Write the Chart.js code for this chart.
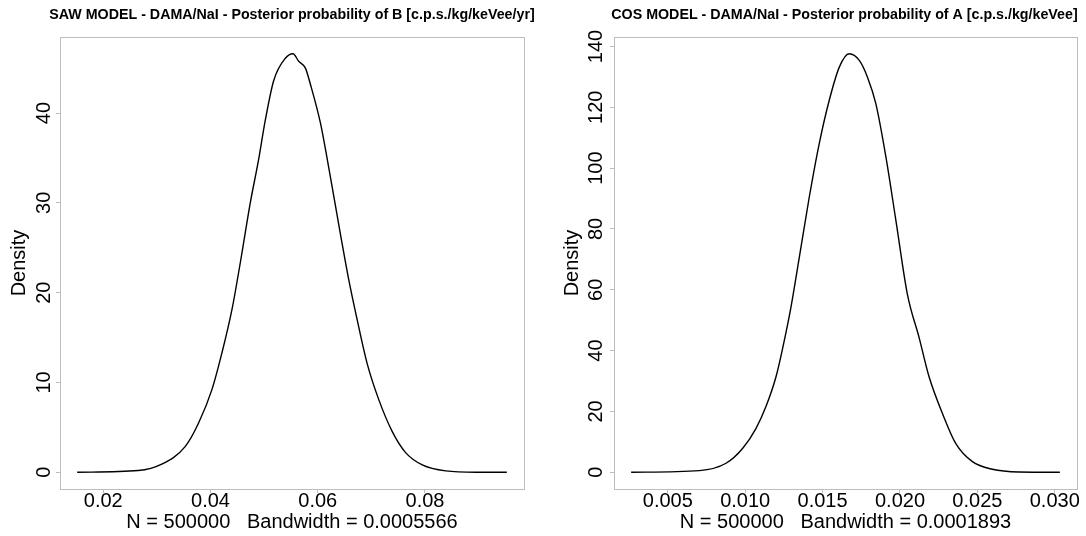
<!DOCTYPE html>
<html>
<head>
<meta charset="utf-8">
<script src="https://cdn.jsdelivr.net/npm/chart.js@4/dist/chart.umd.min.js"></script>
<style>
  body { margin: 0; background: #fff; overflow: hidden; }
  #wrap { position: relative; width: 1086px; height: 536px; overflow: hidden; }
  canvas { position: absolute; top: 0; }
  #saw { left: 0; }
  #cos { left: 560px; }
</style>
</head>
<body>
<div id="wrap">
  <canvas id="saw" width="584" height="536"></canvas>
  <canvas id="cos" width="569" height="536"></canvas>
</div>
<script>
// --- DATA ---

// SAW model, posterior density of B
const sawTitle = "SAW MODEL - DAMA/NaI - Posterior probability of B [c.p.s./kg/keVee/yr]";
const sawSub = "N = 500000   Bandwidth = 0.0005566";
const sawX = [0.01514, 0.02654, 0.0309, 0.03527, 0.03776, 0.04025, 0.04212, 0.044, 0.04555, 0.04742,
  0.04897, 0.05022, 0.05178, 0.05396, 0.05539, 0.05645, 0.0577, 0.05863, 0.0605, 0.06143,
  0.06268, 0.06424, 0.0658, 0.06735, 0.06922, 0.0714, 0.0739, 0.07639, 0.0795, 0.08386, 0.0895, 0.09526];
const sawY = [0, 0.19, 0.9, 2.86, 5.46, 9.17, 13.26, 18.1, 23.3, 30.0,
  34.8, 39.2, 43.6, 46.1, 46.6, 45.76, 45.0, 43.2, 38.9, 36.0,
  31.8, 26.5, 21.4, 17.0, 12.1, 8.06, 4.53, 2.19, 0.82, 0.15, 0, 0];
const sawXTicks = [0.02, 0.04, 0.06, 0.08];
const sawXLabels = ["0.02", "0.04", "0.06", "0.08"];
const sawYTicks = [0, 10, 20, 30, 40];
const sawYLabels = ["0", "10", "20", "30", "40"];

// COS model, posterior density of A
const cosTitle = "COS MODEL - DAMA/NaI - Posterior probability of A [c.p.s./kg/keVee]";
const cosSub = "N = 500000   Bandwidth = 0.0001893";
const cosX = [0.00263, 0.00704, 0.00876, 0.00984, 0.0107, 0.01134, 0.01199, 0.01242, 0.01296, 0.0135,
  0.01414, 0.01478, 0.01543, 0.01608, 0.01672, 0.01737, 0.0179, 0.01844, 0.01909, 0.01973,
  0.02048, 0.02124, 0.02188, 0.02274, 0.0236, 0.02468, 0.02597, 0.02769, 0.03033];
const cosY = [0, 0.55, 2.96, 7.9, 14.45, 21.6, 31.4, 40.8, 54.4, 70.8,
  90.5, 108.0, 122.3, 133.2, 137.6, 135.4, 129.9, 121.2, 103.7, 83.0,
  58.5, 44.2, 31.4, 19.4, 9.5, 3.5, 0.99, 0.1, 0];
const cosXTicks = [0.005, 0.010, 0.015, 0.020, 0.025, 0.030];
const cosXLabels = ["0.005", "0.010", "0.015", "0.020", "0.025", "0.030"];
const cosYTicks = [0, 20, 40, 60, 80, 100, 120, 140];
const cosYLabels = ["0", "20", "40", "60", "80", "100", "120", "140"];

// --- CHART ---

const FONT = "'Liberation Sans', Arial, Helvetica, sans-serif";
const BOX = "#bdbdbd";

// R style: axis range is the data range stretched by 4% on each side
function padRange(values) {
  const lo = Math.min(...values);
  const hi = Math.max(...values);
  const d = (hi - lo) * 0.04;
  return [lo - d, hi + d];
}

// each canvas is centred on its plot box so the full width title lands centred over it;
// axisW / rightW are the space left and right of the plot box inside the canvas
function makePanel(id, p) {
  const [xMin, xMax] = padRange(p.xs);
  const [yMin, yMax] = padRange(p.ys);
  const points = p.xs.map((x, i) => ({ x: x, y: p.ys[i] }));

  return new Chart(document.getElementById(id), {
    type: "line",
    data: {
      datasets: [{
        data: points,
        borderColor: "#000",
        borderWidth: 1.4,
        pointRadius: 0,
        fill: false,
        cubicInterpolationMode: "monotone",
      }],
    },
    options: {
      responsive: false,
      animation: false,
      devicePixelRatio: 1,
      layout: { padding: 0 },
      plugins: {
        legend: { display: false },
        tooltip: { enabled: false },
        title: {
          display: true,
          text: p.title,
          color: "#000",
          font: { family: FONT, size: 14.25, weight: "bold" },
          padding: { top: 7, bottom: 12.9 },
        },
      },
      scales: {
        x: {
          type: "linear",
          min: xMin,
          max: xMax,
          afterBuildTicks: (s) => { s.ticks = p.xTicks.map((v) => ({ value: v })); },
          afterFit: (s) => { s.height = 47; },
          ticks: {
            autoSkip: false,
            maxRotation: 0,
            padding: -3.5,
            color: "#000",
            font: { family: FONT, size: 20 },
            callback: (v, i) => p.xLabels[i],
          },
          grid: { drawOnChartArea: false, drawTicks: true, tickLength: 4, color: BOX },
          border: { display: true, color: BOX },
          title: {
            display: true,
            text: p.sub,
            color: "#000",
            font: { family: FONT, size: 20 },
            padding: { top: 0, bottom: 2 },
          },
        },
        y: {
          type: "linear",
          min: yMin,
          max: yMax,
          afterBuildTicks: (s) => { s.ticks = p.yTicks.map((v) => ({ value: v })); },
          afterFit: (s) => { s.width = p.axisW; },
          ticks: {
            autoSkip: false,
            minRotation: 90,
            maxRotation: 90,
            crossAlign: "center",
            padding: p.yPad,
            color: "#000",
            font: { family: FONT, size: 20 },
            callback: (v, i) => p.yLabels[i],
          },
          grid: { drawOnChartArea: false, drawTicks: true, tickLength: 4, color: BOX },
          border: { display: true, color: BOX },
          title: {
            display: true,
            text: "Density",
            color: "#000",
            font: { family: FONT, size: 20 },
            padding: { top: p.densPad, bottom: 0 },
          },
        },
        // top and right edges of the box
        xTop: {
          type: "linear",
          position: "top",
          min: xMin,
          max: xMax,
          afterFit: (s) => { s.height = 0; },
          ticks: { display: false },
          grid: { display: false },
          border: { display: true, color: BOX },
        },
        yRight: {
          type: "linear",
          position: "right",
          min: yMin,
          max: yMax,
          afterFit: (s) => { s.width = p.rightW; },
          ticks: { display: false },
          grid: { display: false },
          border: { display: true, color: BOX },
        },
      },
    },
  });
}

// canvas 0..584, plot box x 60..524, y 37..489
makePanel("saw", {
  title: sawTitle, sub: sawSub, xs: sawX, ys: sawY,
  xTicks: sawXTicks, xLabels: sawXLabels, yTicks: sawYTicks, yLabels: sawYLabels,
  axisW: 60, rightW: 60, yPad: 0.5, densPad: 7,
});

// canvas 560..1129, plot box x 614..1077, y 37..489
makePanel("cos", {
  title: cosTitle, sub: cosSub, xs: cosX, ys: cosY,
  xTicks: cosXTicks, xLabels: cosXLabels, yTicks: cosYTicks, yLabels: cosYLabels,
  axisW: 54, rightW: 52, yPad: -3.5, densPad: 0.4,
});
</script>
</body>
</html>
